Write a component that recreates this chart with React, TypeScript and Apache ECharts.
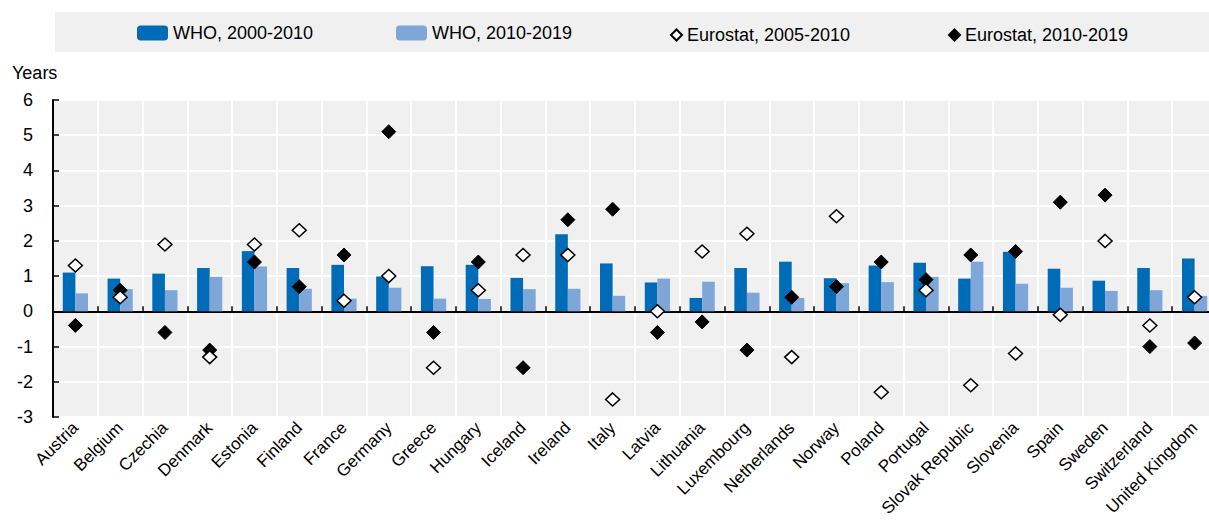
import React, { useEffect, useRef } from "react";
import * as echarts from "echarts";

const categories = [
  "Austria", "Belgium", "Czechia", "Denmark", "Estonia", "Finland", "France", "Germany",
  "Greece", "Hungary", "Iceland", "Ireland", "Italy", "Latvia", "Lithuania", "Luxembourg",
  "Netherlands", "Norway", "Poland", "Portugal", "Slovak Republic", "Slovenia", "Spain",
  "Sweden", "Switzerland", "United Kingdom",
];
const who2000_2010 = [1.10, 0.93, 1.07, 1.23, 1.71, 1.23, 1.32, 0.99, 1.28, 1.32, 0.95, 2.19, 1.36, 0.82, 0.38, 1.23, 1.41, 0.94, 1.30, 1.38, 0.93, 1.69, 1.21, 0.87, 1.23, 1.50];
const who2010_2019 = [0.51, 0.63, 0.60, 0.98, 1.27, 0.64, 0.36, 0.67, 0.36, 0.35, 0.63, 0.64, 0.44, 0.93, 0.84, 0.53, 0.38, 0.80, 0.83, 0.98, 1.41, 0.78, 0.67, 0.58, 0.60, 0.44];
const eurostat2005_2010 = [1.3, 0.4, 1.9, -1.3, 1.9, 2.3, 0.3, 1.0, -1.6, 0.6, 1.6, 1.6, -2.5, 0.0, 1.7, 2.2, -1.3, 2.7, -2.3, 0.6, -2.1, -1.2, -0.1, 2.0, -0.4, 0.4];
const eurostat2010_2019 = [-0.4, 0.6, -0.6, -1.1, 1.4, 0.7, 1.6, 5.1, -0.6, 1.4, -1.6, 2.6, 2.9, -0.6, -0.3, -1.1, 0.4, 0.7, 1.4, 0.9, 1.6, 1.7, 3.1, 3.3, -1.0, -0.9];
const seriesNames = ["WHO, 2000-2010", "WHO, 2010-2019", "Eurostat, 2005-2010", "Eurostat, 2010-2019"];
const yMin = -3;
const yMax = 6;
const yInterval = 1;
const yAxisTitle = "Years";

const FONT = "'Liberation Sans', Arial, sans-serif";
const DARK = "#006bb6";
const LIGHT = "#7fa6d9";

export default function App() {
  const ref = useRef<HTMLDivElement>(null);
  useEffect(() => {
    if (!ref.current) return;
    const chart = echarts.init(ref.current, undefined, { renderer: "svg" });
    const textStyle = { fontFamily: FONT, fontSize: 18, color: "#000" };
    chart.setOption({
      animation: false,
      textStyle: { fontFamily: FONT },
      graphic: [
        { type: "rect", left: 55, top: 12, shape: { width: 1154, height: 40 }, style: { fill: "#f0f0f0" }, z: -10 },
        { type: "text", left: 12, top: 64, style: { text: yAxisTitle, font: `18px ${FONT}`, fill: "#000" } },
      ],
      legend: [
        { data: [seriesNames[0]], left: 137, top: 24, itemWidth: 31, itemHeight: 15, padding: 0, textStyle },
        { data: [seriesNames[1]], left: 396, top: 24, itemWidth: 31, itemHeight: 15, padding: 0, textStyle },
        { data: [seriesNames[2]], left: 670, top: 26, itemWidth: 11, itemHeight: 11, padding: 0, textStyle },
        { data: [seriesNames[3]], left: 948, top: 26, itemWidth: 11, itemHeight: 11, padding: 0, textStyle },
      ],
      grid: {
        left: 53, top: 100, width: 1164, height: 317,
        show: true, backgroundColor: "#f0f0f0", borderWidth: 0, containLabel: false,
        outerBoundsMode: "none",
      },
      xAxis: [
        {
          type: "category", data: categories, position: "bottom",
          axisLine: { show: false, onZero: false },
          axisTick: { show: false },
          axisLabel: { interval: 0, rotate: 45, margin: 8, ...textStyle, fontSize: 17 },
          splitLine: { show: true, interval: 0, lineStyle: { color: "#fff", width: 2 } },
        },
        {
          type: "category", data: categories, position: "bottom",
          axisLine: { show: true, onZero: true, lineStyle: { color: "#000", width: 2 } },
          axisTick: { show: true, inside: true, length: 5, interval: 0, lineStyle: { color: "#000", width: 1.5 } },
          axisLabel: { show: false },
          splitLine: { show: false },
        },
      ],
      yAxis: {
        type: "value", min: yMin, max: yMax, interval: yInterval,
        axisLine: { show: true, lineStyle: { color: "#000", width: 2 } },
        axisTick: { show: true, inside: true, length: 6, lineStyle: { color: "#000", width: 1.5 } },
        axisLabel: { margin: 20, ...textStyle },
        splitLine: { show: true, lineStyle: { color: "#fff", width: 2 } },
      },
      series: [
        { name: seriesNames[0], type: "bar", data: who2000_2010, barWidth: 12.6, barGap: "0%", itemStyle: { color: DARK } },
        { name: seriesNames[1], type: "bar", data: who2010_2019, barWidth: 12.6, barGap: "0%", itemStyle: { color: LIGHT } },
        {
          name: seriesNames[3], type: "scatter", data: eurostat2010_2019, symbol: "diamond", symbolSize: [14, 14],
          itemStyle: { color: "#000", borderColor: "#000", borderWidth: 1, opacity: 1 }, z: 3,
        },
        {
          name: seriesNames[2], type: "scatter", data: eurostat2005_2010, symbol: "diamond", symbolSize: [14, 13],
          itemStyle: { color: "#fff", borderColor: "#000", borderWidth: 1.5, opacity: 1 }, z: 4,
        },
      ],
    });
    return () => chart.dispose();
  }, []);
  return (
    <div
      ref={ref}
      style={{ position: "absolute", left: 0, top: 0, width: 1209, height: 522, background: "#fff" }}
    />
  );
}
